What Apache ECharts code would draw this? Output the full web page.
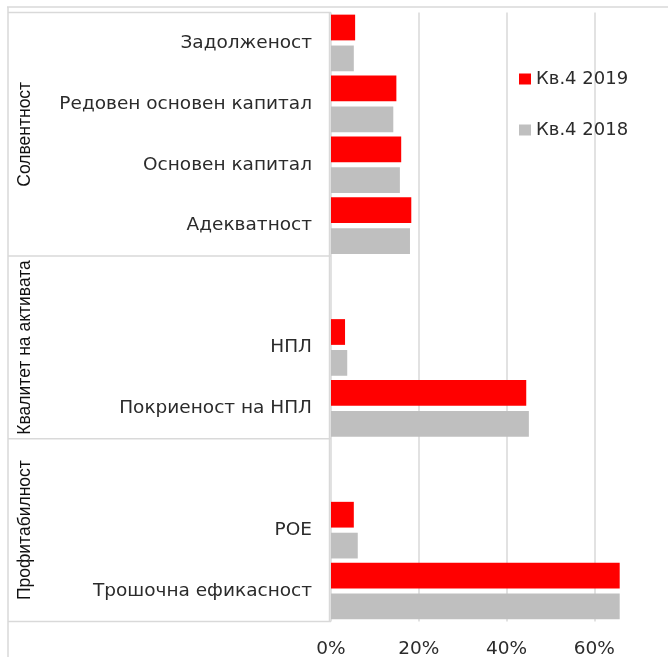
<!DOCTYPE html>
<html>
<head>
<meta charset="utf-8">
<script src="https://cdn.jsdelivr.net/npm/echarts@6/dist/echarts.min.js"></script>
<style>
  html, body { margin: 0; padding: 0; background: #fff; }
  #chart { width: 668px; height: 657px; }
</style>
</head>
<body>
<div id="chart"></div>
<script>
// categories, top to bottom ('' = empty row between groups)
const categories = ['Задолженост', 'Редовен основен капитал', 'Основен капитал', 'Адекватност',
  '', 'НПЛ', 'Покриеност на НПЛ', '', 'РОЕ', 'Трошочна ефикасност'];
const q4_2019 = [5.5, 14.9, 16.0, 18.3, null, 3.2, 44.5, null, 5.2, 65.8];
const q4_2018 = [5.2, 14.2, 15.7, 18.0, null, 3.7, 45.1, null, 6.1, 65.8];
const seriesNames = ['Кв.4 2019', 'Кв.4 2018'];
const xTicks = [0, 20, 40, 60];
// groups: name, first and last category index
const groups = [
  { name: 'Солвентност', from: 0, to: 3 },
  { name: 'Квалитет на активата', from: 4, to: 6 },
  { name: 'Профитабилност', from: 7, to: 9 }
];

const chart = echarts.init(document.getElementById('chart'));
const font = 'DejaVu Sans';
const lineCol = '#d9d9d9';

chart.setOption({
  animation: false,
  textStyle: { fontFamily: font },
  grid: { left: 331, right: -14, top: 12.5, bottom: 35.5, containLabel: false, outerBoundsMode: 'none' },
  legend: {
    orient: 'vertical',
    left: 514,
    top: 65,
    itemWidth: 12,
    itemHeight: 11,
    itemGap: 33,
    icon: 'rect',
    textStyle: { fontSize: 18, color: '#2b2b2b', fontFamily: font },
    data: seriesNames
  },
  xAxis: {
    type: 'value',
    min: 0,
    max: 80,
    interval: 20,
    axisLine: { show: false },
    axisTick: { show: false },
    axisLabel: {
      fontSize: 18.5,
      color: '#2b2b2b',
      margin: 18,
      formatter: v => (xTicks.indexOf(v) >= 0 ? v + '%' : '')
    },
    splitLine: { lineStyle: { color: lineCol, width: 1.5 } }
  },
  yAxis: {
    type: 'category',
    inverse: true,
    data: categories,
    axisLine: { show: false },
    axisTick: { show: false },
    axisLabel: { fontSize: 18.5, color: '#2b2b2b', margin: 19 }
  },
  series: [
    {
      name: seriesNames[0], type: 'bar', data: q4_2019,
      barGap: '20%', barCategoryGap: '7%',
      itemStyle: { color: '#ff0000' }
    },
    {
      name: seriesNames[1], type: 'bar', data: q4_2018,
      barGap: '20%', barCategoryGap: '7%',
      itemStyle: { color: '#bfbfbf' }
    }
  ]
});

// frame, group boxes and group labels
const c0 = chart.convertToPixel({ yAxisIndex: 0 }, 0);
const c1 = chart.convertToPixel({ yAxisIndex: 0 }, 1);
const band = c1 - c0;
const edge = i => c0 - band / 2 + i * band;
const axisX = chart.convertToPixel({ xAxisIndex: 0 }, 0);

const line = (x1, y1, x2, y2) => ({
  type: 'line', silent: true,
  shape: { x1, y1, x2, y2 },
  style: { stroke: lineCol, lineWidth: 1.5 }
});

const graphics = [line(7, 7, 668, 7), line(8, 7, 8, 657), line(8, edge(0), axisX, edge(0)),
  line(axisX - 1.5, edge(0), axisX - 1.5, edge(categories.length))];
groups.forEach(g => {
  graphics.push(line(8, edge(g.to + 1), axisX, edge(g.to + 1)));
  graphics.push({
    type: 'text', silent: true,
    x: 25, y: (edge(g.from) + edge(g.to + 1)) / 2,
    rotation: Math.PI / 2,
    style: {
      text: g.name, fill: '#111', font: '17.5px "Liberation Sans"',
      textAlign: 'center', textVerticalAlign: 'middle'
    }
  });
});
chart.setOption({ graphic: graphics });
</script>
</body>
</html>
